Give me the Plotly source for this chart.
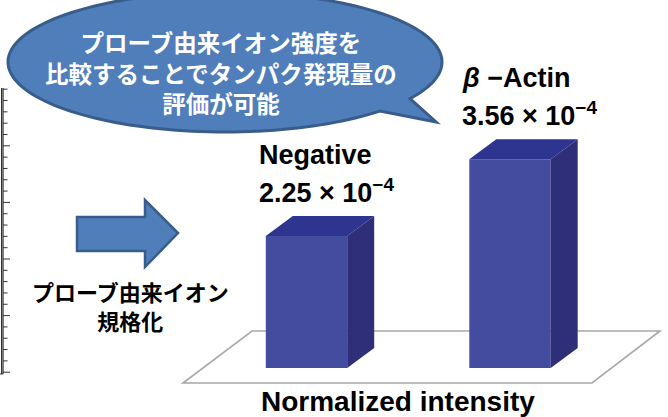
import math
import plotly.graph_objects as go

# ---- data ----
categories = ["Negative", "<i>β</i> −Actin"]
values = [2.25, 3.56]              # normalized intensity (x10^-4)
value_labels = ["2.25 × 10<sup>−4</sup>", "3.56 × 10<sup>−4</sup>"]
bubble_lines = ["プローブ由来イオン強度を", "比較することでタンパク発現量の", "評価が可能"]
arrow_lines = ["プローブ由来イオン", "規格化"]
x_title = "Normalized intensity"

W, H = 668, 417
# axis geometry
Y0_PX, Y_SCALE = 368.0, 132.0 / 2.25     # px of zero, px per unit
X0_PX, X_SCALE = 306.5, 203.5
BAR_W = 0.40
DX = 27.0 / X_SCALE
DY = 20.0 / Y_SCALE

yr = [-(H - Y0_PX) / Y_SCALE, Y0_PX / Y_SCALE]
xr = [-X0_PX / X_SCALE, (W - X0_PX) / X_SCALE]

def px(x):
    return x / W

def py(y):
    return 1 - y / H

FRONT = "#444C9F"
TOP = "#2D3591"
SIDE = "#2E2F78"
BLUE_FILL = "#4F7EBA"
BLUE_LINE = "#385D8A"

fig = go.Figure()
xs = list(range(len(values)))
fig.add_trace(go.Bar(x=xs, y=values, width=BAR_W, base=0,
                     marker=dict(color=FRONT, line=dict(width=0)),
                     showlegend=False, hoverinfo="skip"))
for i, v in zip(xs, values):
    l, r = i - BAR_W / 2, i + BAR_W / 2
    # top face
    fig.add_trace(go.Scatter(x=[l, r, r + DX, l + DX, l], y=[v, v, v + DY, v + DY, v],
                             fill="toself", fillcolor=TOP, line=dict(width=0, color=TOP),
                             mode="lines", showlegend=False, hoverinfo="skip"))
    # side face
    fig.add_trace(go.Scatter(x=[r, r + DX, r + DX, r, r], y=[0, DY, v + DY, v, 0],
                             fill="toself", fillcolor=SIDE, line=dict(width=0, color=SIDE),
                             mode="lines", showlegend=False, hoverinfo="skip"))

shapes = []
# floor parallelogram
floor = [(252, 331), (660, 331), (592, 383), (183, 383)]
path = "M " + " L ".join(f"{px(a):.5f},{py(b):.5f}" for a, b in floor) + " Z"
shapes.append(dict(type="path", xref="paper", yref="paper", path=path,
                   line=dict(color="#A8A8A8", width=1.6), layer="below"))

# speech bubble
cx, cy, rx, ry = 225, 62, 217, 70
t_start = math.degrees(math.acos((410 - cx) / rx))
t_end = math.degrees(math.acos((380 - cx) / rx)) - 360
pts = []
n = 160
for k in range(n + 1):
    t = math.radians(t_start + (t_end - t_start) * k / n)
    pts.append((cx + rx * math.cos(t), cy + ry * math.sin(t)))
pts.append((436, 122))
path = "M " + " L ".join(f"{px(a):.5f},{py(b):.5f}" for a, b in pts) + " Z"
shapes.append(dict(type="path", xref="paper", yref="paper", path=path,
                   fillcolor=BLUE_FILL, line=dict(color=BLUE_LINE, width=3)))

# block arrow
arrow = [(77, 217), (145, 217), (145, 200), (178, 233), (145, 267), (145, 251), (77, 251)]
path = "M " + " L ".join(f"{px(a):.5f},{py(b):.5f}" for a, b in arrow) + " Z"
shapes.append(dict(type="path", xref="paper", yref="paper", path=path,
                   fillcolor=BLUE_FILL, line=dict(color=BLUE_LINE, width=2.5)))

# partial left axis
shapes.append(dict(type="line", xref="paper", yref="paper", x0=px(1.5), x1=px(1.5),
                   y0=py(88), y1=py(374), line=dict(color="#7A1010", width=1)))
shapes.append(dict(type="line", xref="paper", yref="paper", x0=px(3), x1=px(3),
                   y0=py(88), y1=py(374), line=dict(color="#222222", width=1.2)))
for k in range(26):
    yy = 89.2 + k * 11.32
    long = (k % 5 == 0 and k > 0)
    shapes.append(dict(type="line", xref="paper", yref="paper", x0=px(3), x1=px(10 if long else 7.5),
                       y0=py(yy), y1=py(yy), line=dict(color="#333333", width=1)))
shapes.append(dict(type="line", xref="paper", yref="paper", x0=px(0), x1=px(3),
                   y0=py(374), y1=py(374), line=dict(color="#333333", width=1)))

annotations = []
CJK = "Noto Sans CJK JP, sans-serif"
LAT = "Liberation Sans, Arial, sans-serif"
annotations.append(dict(xref="paper", yref="paper", x=px(221), y=py(72.5),
                        text="<br>".join(f"<b>{s}</b>" for s in bubble_lines),
                        showarrow=False, xanchor="center", yanchor="middle", align="center",
                        font=dict(family=CJK, size=23.5, color="white")))
annotations.append(dict(xref="paper", yref="paper", x=px(130), y=py(305),
                        text="<br>".join(f"<b>{s}</b>" for s in arrow_lines),
                        showarrow=False, xanchor="center", yanchor="middle", align="center",
                        font=dict(family=CJK, size=22, color="black")))
for i, (v, name, lab) in enumerate(zip(values, categories, value_labels)):
    xl = i - BAR_W / 2 - 9 / X_SCALE
    annotations.append(dict(x=xl, y=v + DY + 25 / Y_SCALE, text=f"<b>{lab}</b>",
                            showarrow=False, xanchor="left", yanchor="middle",
                            font=dict(family=LAT, size=27, color="black")))
    annotations.append(dict(x=xl, y=v + DY + 61 / Y_SCALE, text=f"<b>{name}</b>",
                            showarrow=False, xanchor="left", yanchor="middle",
                            font=dict(family=LAT, size=27, color="black")))
annotations.append(dict(xref="paper", yref="paper", x=px(398), y=py(401), text=f"<b>{x_title}</b>",
                        showarrow=False, xanchor="center", yanchor="middle",
                        font=dict(family=LAT, size=28, color="black")))

fig.update_layout(
    width=W, height=H, margin=dict(l=0, r=0, t=0, b=0),
    paper_bgcolor="white", plot_bgcolor="white",
    xaxis=dict(range=xr, visible=False, fixedrange=True),
    yaxis=dict(range=yr, visible=False, fixedrange=True),
    shapes=shapes, annotations=annotations, showlegend=False,
)
fig.write_html("out.html")
